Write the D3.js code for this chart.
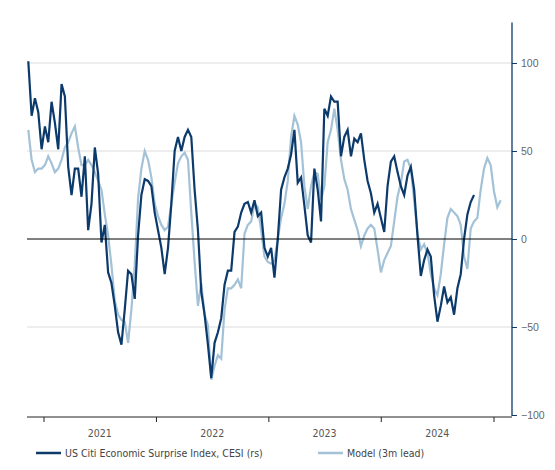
<!DOCTYPE html>
<html><head><meta charset="utf-8">
<script src="https://cdn.jsdelivr.net/npm/d3@7"></script>
<style>body{margin:0;background:#fff}svg{font-family:"DejaVu Sans Condensed","Roboto",sans-serif}</style>
</head><body><svg id="c" width="555" height="470"></svg>
<script>
const seriesStart = "2020-11-11";
const stepDays = 10.8;
const cesi = [101,70,80,72,51,64,55,78,66,51,88,81,41,25,40,40,24,47,5,20,52,37,-2,8,-19,-25,-38,-53,-60,-40,-18,-20,-34,2,25,34,33,30,15,5,-5,-20,-5,20,50,58,50,58,62,58,28,5,-30,-43,-60,-79,-59,-53,-45,-26,-18,-18,4,7,15,20,21,15,22,13,
15,-5,-10,-5,-22,0,28,35,40,48,62,32,35,19,2,-2,40,28,10,74,70,81,78,78,47,58,62,47,57,55,60,45,33,26,15,20,12,4,30,44,47,38,30,25,36,41,28,2,-21,-12,-6,-10,-32,-47,-38,-27,-36,-33,-43,-28,-20,0,14,21,25];
const model = [62,45,38,40,40,42,47,43,38,40,45,52,55,60,64,52,42,42,45,42,38,33,28,14,2,-15,-35,-43,-46,-47,-59,-40,-15,23,40,50,45,35,20,13,8,5,7,20,32,43,47,49,45,15,-13,-38,-25,-43,-49,-80,-72,-66,-68,-40,-28,-28,-26,-23,-28,3,8,10,20,18,
5,-10,-13,-14,-12,0,12,20,33,58,70,65,55,30,17,30,38,37,22,30,55,62,74,62,45,34,28,17,11,5,-4,2,6,8,6,-6,-19,-12,-8,-4,10,24,32,44,45,40,22,3,-6,-3,-8,-20,-28,-32,-20,-3,12,17,15,13,8,-10,-17,6,10,12,28,40,46,42,27,18,22];
const yTicks = [100,50,0,-50,-100];
const yearLabels = ["2021","2022","2023","2024"];
const legendNames = ["US Citi Economic Surprise Index, CESI (rs)","Model (3m lead)"];

const svg = d3.select("#c");
const t0 = new Date(seriesStart+"T00:00:00");
const dateAt = i => new Date(t0.getTime() + i*stepDays*864e5);
const x = d3.scaleTime().domain([new Date("2021-01-01T00:00:00"), new Date("2025-01-01T00:00:00")]).range([44, 494]);
const y = d3.scaleLinear().domain([-100,100]).range([415,63]);
const plotLeft = 27, plotRight = 512, plotTop = y(123);

svg.append("g").selectAll("line").data(yTicks.filter(v=>v!==0 && v!==-100)).join("line")
  .attr("x1",plotLeft).attr("x2",plotRight).attr("y1",d=>y(d)).attr("y2",d=>y(d))
  .attr("stroke","#dcdcdc").attr("stroke-width",1);

const line = d3.line().x((d,i)=>x(dateAt(i))).y(d=>y(d));
svg.append("path").datum(model).attr("d",line).attr("fill","none").attr("stroke","#a3c2d8").attr("stroke-width",2.2);
svg.append("path").datum(cesi).attr("d",line).attr("fill","none").attr("stroke","#0c3a6b").attr("stroke-width",2.2);

svg.append("line").attr("x1",plotLeft).attr("x2",plotRight).attr("y1",y(0)).attr("y2",y(0)).attr("stroke","#000").attr("stroke-width",1);

const ya = svg.append("g").attr("transform",`translate(${plotRight},0)`)
  .call(d3.axisRight(y).tickValues(yTicks).tickSize(5).tickPadding(4));
ya.select(".domain").remove();
ya.selectAll(".tick line").attr("stroke","#0c3a6b");
ya.selectAll("text").attr("fill","#666").attr("font-size","10.5px");
svg.append("line").attr("x1",plotRight).attr("x2",plotRight).attr("y1",plotTop).attr("y2",y(-100)+1).attr("stroke","#0c3a6b").attr("stroke-width",1.3);

const years = [2021,2022,2023,2024,2025].map(yy=>new Date(yy+"-01-01T00:00:00"));
svg.append("line").attr("x1",plotLeft).attr("x2",plotRight).attr("y1",417).attr("y2",417).attr("stroke","#222").attr("stroke-width",1);
svg.append("g").selectAll("line").data(years).join("line")
  .attr("x1",d=>x(d)).attr("x2",d=>x(d)).attr("y1",417).attr("y2",422).attr("stroke","#222");
svg.append("g").selectAll("text").data(yearLabels).join("text")
  .attr("x",d=>x(new Date(d+"-07-01T00:00:00"))).attr("y",437).attr("text-anchor","middle")
  .attr("fill","#555").attr("font-size","10.5px").text(d=>d);

const lg = [{x:36,c:"#0c3a6b",t:legendNames[0]},{x:318,c:"#a3c2d8",t:legendNames[1]}];
lg.forEach(l=>{
  svg.append("line").attr("x1",l.x).attr("x2",l.x+25).attr("y1",453).attr("y2",453).attr("stroke",l.c).attr("stroke-width",2.5);
  svg.append("text").attr("x",l.x+29).attr("y",457).attr("fill","#444").attr("font-size","10.5px").text(l.t);
});
</script></body></html>
